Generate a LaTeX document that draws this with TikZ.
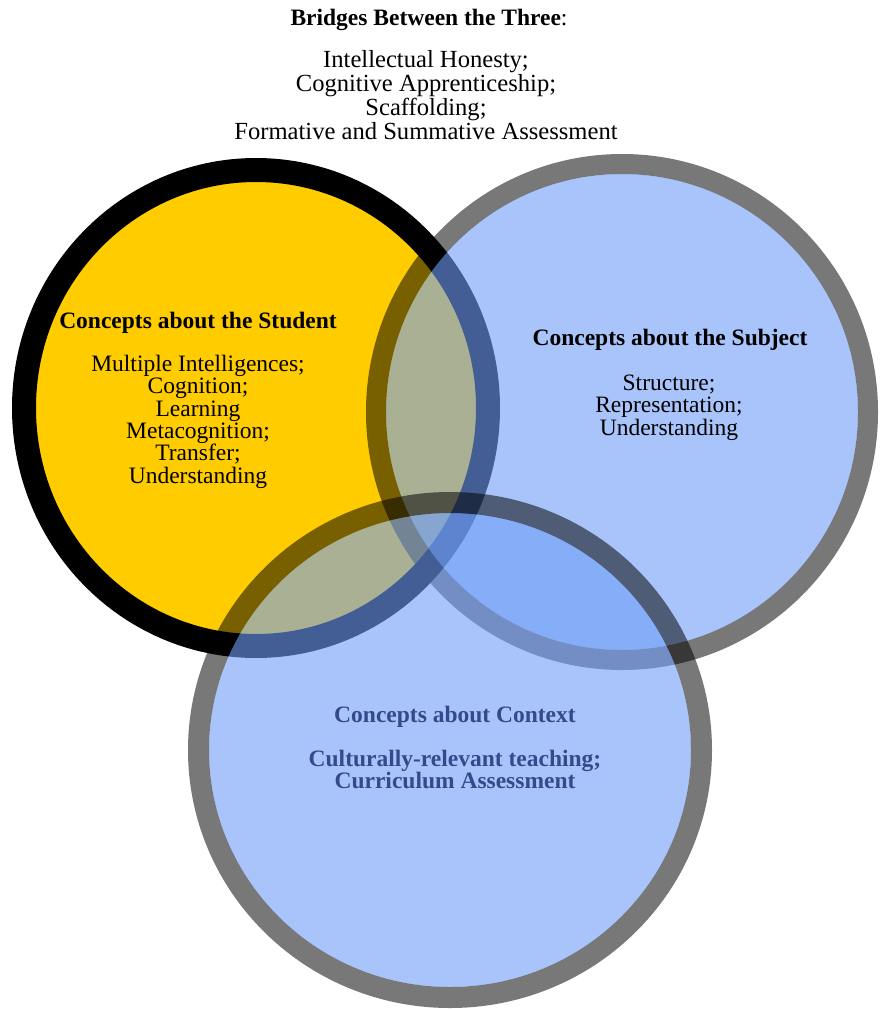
\documentclass[tikz,border=0pt]{standalone}
\usepackage{fontspec}
\setmainfont{Liberation Serif}
\definecolor{studfill}{RGB}{255,204,0}
\definecolor{bluefill}{RGB}{112,158,248}
\definecolor{ctxtext}{RGB}{52,74,140}
\begin{document}
\begin{tikzpicture}[x=1pt,y=-1pt,
  txt/.style={inner sep=0pt, outer sep=0pt, align=center, anchor=base},
  toptitle/.style={font=\fontsize{23.5}{23.5}\selectfont},
  topfont/.style={font=\fontsize{24.6}{23.7}\selectfont},
  bodyfont/.style={font=\fontsize{23.5}{22.3}\selectfont},
  ctxfont/.style={font=\fontsize{23.5}{21.8}\selectfont\bfseries, text=ctxtext},
  bluedisc/.style={fill=bluefill, fill opacity=.6},
  greyring/.style={draw=black, draw opacity=.53},
]
\useasboundingbox (0,0) rectangle (881,1009);
\fill[white] (0,0) rectangle (881,1009);
\coordinate (cS) at (256,408);
\coordinate (cB) at (622,412);
\coordinate (cC) at (450,750);
% student circle
\fill[studfill] (cS) ellipse [x radius=232pt, y radius=238pt];
\draw[black, line width=24pt] (cS) ellipse [x radius=232pt, y radius=238pt];
% subject circle
\path[bluedisc] (cB) ellipse [x radius=236pt, y radius=238pt];
\path[greyring, line width=20pt] (cB) ellipse [x radius=246pt, y radius=248pt];
% context circle
\path[bluedisc] (cC) ellipse [x radius=241pt, y radius=237pt];
\path[greyring, line width=21pt] (cC) ellipse [x radius=251.5pt, y radius=247.5pt];
% texts (base anchor = baseline of the last line)
\node[txt, toptitle] (bridgeTitle) at (429,25) {\textbf{Bridges Between the Three}:};
\node[txt, topfont] (bridgeBody) at (426,139) {Intellectual Honesty;\\Cognitive Apprenticeship;\\Scaffolding;\\Formative and Summative Assessment};
\node[txt, bodyfont] (studTitle) at (198,328) {\textbf{Concepts about the Student}};
\node[txt, bodyfont] (studBody) at (198,483) {Multiple Intelligences;\\Cognition;\\Learning\\Metacognition;\\Transfer;\\Understanding};
\node[txt, bodyfont] (subjTitle) at (670,345) {\textbf{Concepts about the Subject}};
\node[txt, bodyfont] (subjBody) at (669,435) {Structure;\\Representation;\\ Understanding};
\node[txt, ctxfont] (ctxTitle) at (455,722) {Concepts about Context};
\node[txt, ctxfont] (ctxBody) at (455,788) {Culturally-relevant teaching;\\Curriculum Assessment};
\end{tikzpicture}
\end{document}
